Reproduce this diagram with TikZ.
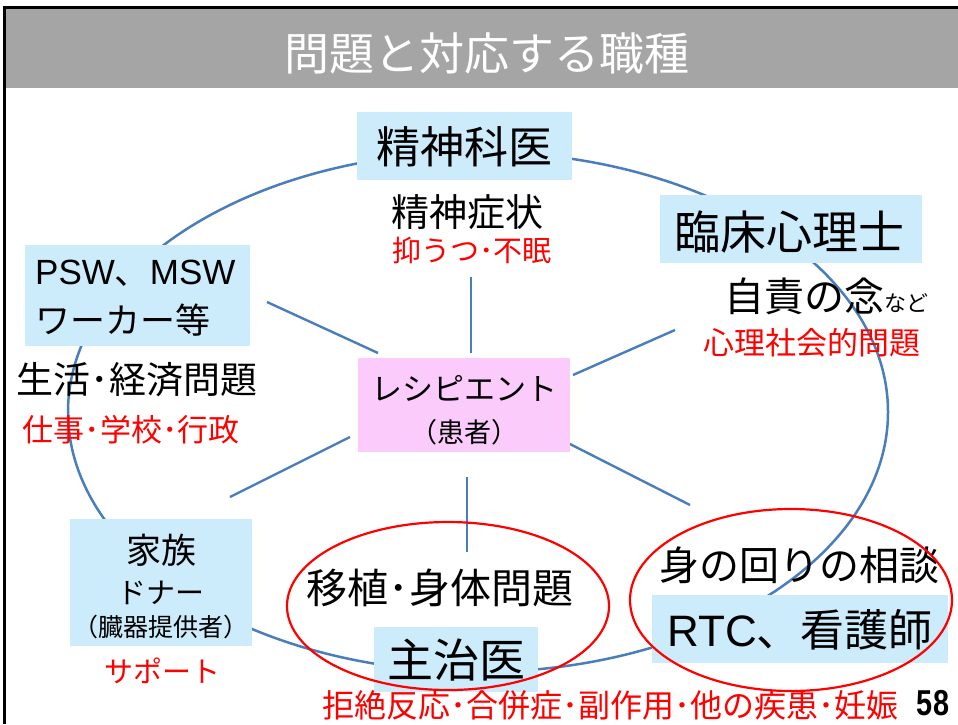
\documentclass[tikz,border=0pt]{standalone}
\usepackage{fontspec}
\usepackage{graphicx}
\setmainfont{Noto Sans CJK JP}
\newfontfamily\latf{Liberation Sans}
\definecolor{hdr}{HTML}{A5A5A5}
\definecolor{lblue}{HTML}{CCEBFB}
\definecolor{lpink}{HTML}{FBCBFB}
\definecolor{sblue}{HTML}{4A7EBB}
\definecolor{jred}{HTML}{FF0000}
\newcommand\fsz[1]{\fontsize{#1}{#1}\selectfont}
\begin{document}
\begin{tikzpicture}[x=1pt,y=-1pt,
  box/.style={fill=lblue, draw=none, inner sep=0},
  pbox/.style={fill=lpink, draw=none, inner sep=0},
  txt/.style={inner sep=0, text=black},
  rtxt/.style={inner sep=0, text=jred},
  conn/.style={draw=sblue, line width=2.4},
  redell/.style={draw=jred, line width=2.2}
]
\useasboundingbox[fill=white] (0,0) rectangle (958,724);
% header
\fill[hdr] (5,8) rectangle (958,88);
\draw[black, line width=3] (4.5,724) -- (4.5,7.5) -- (958,7.5);
\node[txt, text=white] (title) at (487,53) {\fsz{45}問題と対応する職種};

% big ellipse
\draw[sblue, line width=2.5] (478,412) ellipse [x radius=410, y radius=260];

% connector end points
\coordinate (uA) at (471,277); \coordinate (uB) at (471,353);
\coordinate (ulA) at (267,302); \coordinate (ulB) at (378,353);
\coordinate (urA) at (573,375); \coordinate (urB) at (675,330);
\coordinate (dlA) at (350,437); \coordinate (dlB) at (230,497);
\coordinate (drA) at (568,443); \coordinate (drB) at (690,505);
\coordinate (dA) at (467,477); \coordinate (dB) at (467,552);
\draw[conn] (uA) -- (uB);
\draw[conn] (ulA) -- (ulB);
\draw[conn] (urA) -- (urB);
\draw[conn] (dlA) -- (dlB);
\draw[conn] (drA) -- (drB);
\draw[conn] (dA) -- (dB);

% boxes
\node[box, minimum width=215, minimum height=68] (psych) at (464.5,146) {};
\node[box, minimum width=262, minimum height=68] (clin) at (791,229) {};
\node[box, minimum width=225, minimum height=101] (psw) at (137.5,295.5) {};
\node[pbox, minimum width=212, minimum height=94] (recip) at (464,405) {};
\node[box, minimum width=182, minimum height=127] (family) at (161,582.5) {};
\node[box, minimum width=164, minimum height=65] (shuji) at (456,659.5) {};
\node[box, minimum width=296, minimum height=68] (rtc) at (800,629) {};

% texts
\node[txt] (tpsych) at (464,147) {\fsz{44}精神科医};
\node[txt] (tsym) at (467,212) {\fsz{38}精神症状};
\node[rtxt] (tsym2) at (472,250) {\fsz{29}抑うつ･不眠};
\node[txt] (tclin) at (789,232) {\fsz{46}臨床心理士};
\node[txt, anchor=base] (tguilt) at (826,311) {\fsz{40}自責の念\fsz{22}など};
\node[rtxt] (tpsy) at (812,343) {\fsz{31}心理社会的問題};
\node[txt, anchor=west] (tpsw1) at (35,273) {\fsz{35}{\latf PSW}、{\latf MSW}};
\node[txt, anchor=west] (tpsw2) at (35,320) {\fsz{35}ワーカー等};
\node[txt] (tlife) at (137,380) {\fsz{37}生活･経済問題};
\node[rtxt] (tlife2) at (131,430) {\fsz{31}仕事･学校･行政};
\node[txt] (trec1) at (464,388) {\fsz{31}レシピエント};
\node[txt] (trec2) at (464,432) {\fsz{27}（患者）};
\node[txt] (tfam1) at (161,550) {\fsz{35}家族};
\node[txt] (tfam2) at (161,593) {\fsz{29}ドナー};
\node[txt] (tfam3) at (161,627) {\fsz{25}（臓器提供者）};
\node[rtxt] (tsup) at (162,671) {\fsz{29}サポート};
\node[txt] (ttrans) at (440,588) {\fsz{41}移植･身体問題};
\node[txt] (tshuji) at (456,660) {\fsz{46}主治医};
\node[txt] (tmimawari) at (799,565) {\fsz{40}身の回りの相談};
\node[txt] (trtc) at (800,630) {\fsz{44}{\latf RTC}、看護師};
\node[rtxt] (tbottom) at (610,705) {\fsz{32}拒絶反応･合併症･副作用･他の疾患･妊娠};
\node[txt] (tpage) at (933,703) {\scalebox{0.8}[1]{\fsz{36}\latf\bfseries 58}};

% red ellipses
\draw[redell] (448,606) ellipse [x radius=161, y radius=84];
\draw[redell] (791,600) ellipse [x radius=161, y radius=91];
\end{tikzpicture}
\end{document}
